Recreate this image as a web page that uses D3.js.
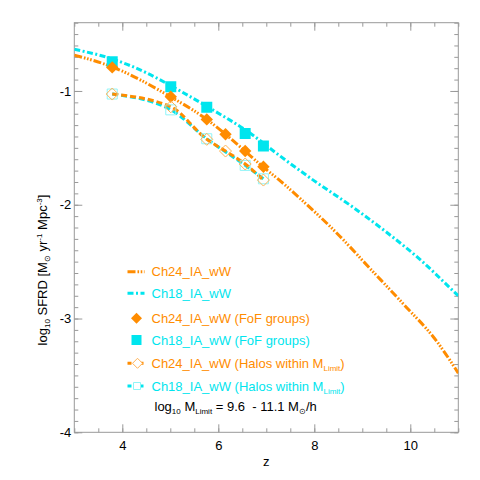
<!DOCTYPE html>
<html><head><meta charset="utf-8">
<script src="https://cdn.jsdelivr.net/npm/d3@7"></script>
<style>body{margin:0;background:#fff}svg{display:block}text{font-family:"Liberation Sans",Arial,sans-serif}</style>
</head><body><svg id="c" width="480" height="480"></svg>
<script>
// ---- data ----
const ch24Z   = [3.0, 3.8, 5.0, 5.76, 6.15, 6.56, 6.94, 7.29, 7.77, 8.47, 9.16, 9.85, 10.55, 11.0];
const ch24Y   = [-0.685, -0.79, -1.05, -1.25, -1.38, -1.53, -1.67, -1.79, -1.97, -2.25, -2.56, -2.87, -3.2, -3.48];
const ch18Z   = [3.0, 3.8, 4.5, 5.1, 5.9, 6.66, 7.25, 8.0, 8.8, 9.5, 10.2, 10.9, 11.0];
const ch18Y   = [-0.634, -0.72, -0.84, -0.975, -1.17, -1.37, -1.56, -1.79, -2.02, -2.24, -2.48, -2.76, -2.80];
const fof24Z  = [3.79, 5.01, 5.76, 6.15, 6.56, 6.94];
const fof24Y  = [-0.793, -1.051, -1.250, -1.381, -1.528, -1.666];
const fof18Z  = [3.79, 5.01, 5.76, 6.56, 6.94];
const fof18Y  = [-0.743, -0.963, -1.144, -1.373, -1.484];
const halo24Z = [3.79, 5.01, 5.76, 6.15, 6.56, 6.94];
const halo24Y = [-1.027, -1.139, -1.425, -1.528, -1.642, -1.783];
const halo18Z = [3.79, 5.01, 5.76, 6.56, 6.94];
const halo18Y = [-1.027, -1.166, -1.420, -1.654, -1.772];
const xTicks = [4, 6, 8, 10];
const yTicks = [-1, -2, -3, -4];
const legendLabels = ["Ch24_IA_wW", "Ch18_IA_wW", "Ch24_IA_wW (FoF groups)", "Ch18_IA_wW (FoF groups)", "Ch24_IA_wW (Halos within M", "Ch18_IA_wW (Halos within M"];

const ORANGE = "#FF8C00", CYAN = "#00E5EE", AX = "#999";
const svg = d3.select("#c");
const L = 74.3, R = 458.3, T = 22.7, B = 432.3;
const x = d3.scaleLinear().domain([3, 11]).range([L, R]);
const y = d3.scaleLinear().domain([-4, -0.4]).range([B, T]);

// axes
const fmt = d => d;
const xMinor = d3.range(3, 11.001, 0.5);
const yMinor = d3.range(-4, -0.399, 0.1);
function ticksAxis(axisGen, tr) {
  const g = svg.append("g").attr("transform", tr).call(axisGen);
  g.select(".domain").remove();
  g.selectAll("line").attr("stroke", AX);
  g.selectAll("text").attr("fill", "#000").style("font-size", "13px").style("font-family", "Liberation Sans, Arial, sans-serif");
  return g;
}
// bottom
ticksAxis(d3.axisTop(x).tickValues(xMinor).tickSize(4).tickFormat(""), `translate(0,${B})`);
ticksAxis(d3.axisTop(x).tickValues(xTicks).tickSize(8).tickFormat(""), `translate(0,${B})`);
ticksAxis(d3.axisBottom(x).tickValues(xTicks).tickSize(0).tickPadding(8).tickFormat(fmt), `translate(0,${B})`);
// top
ticksAxis(d3.axisBottom(x).tickValues(xMinor).tickSize(4).tickFormat(""), `translate(0,${T})`);
ticksAxis(d3.axisBottom(x).tickValues(xTicks).tickSize(8).tickFormat(""), `translate(0,${T})`);
// left
ticksAxis(d3.axisRight(y).tickValues(yMinor).tickSize(4).tickFormat(""), `translate(${L},0)`);
ticksAxis(d3.axisRight(y).tickValues(yTicks).tickSize(8).tickFormat(""), `translate(${L},0)`);
ticksAxis(d3.axisLeft(y).tickValues(yTicks).tickSize(0).tickPadding(3).tickFormat(fmt), `translate(${L},0)`);
// right
ticksAxis(d3.axisLeft(y).tickValues(yMinor).tickSize(4).tickFormat(""), `translate(${R},0)`);
ticksAxis(d3.axisLeft(y).tickValues(yTicks).tickSize(8).tickFormat(""), `translate(${R},0)`);
svg.append("rect").attr("x", L).attr("y", T).attr("width", R - L).attr("height", B - T)
  .attr("fill", "none").attr("stroke", AX).attr("stroke-width", 1);

// titles
svg.append("text").attr("x", (L + R) / 2).attr("y", 466).attr("text-anchor", "middle")
  .style("font-size", "13px").text("z");
const yt = svg.append("text").attr("transform", "translate(47,270) rotate(-90)")
  .attr("text-anchor", "middle").style("font-size", "13px");
yt.append("tspan").text("log");
yt.append("tspan").attr("baseline-shift", "-3").style("font-size", "8px").text("10");
yt.append("tspan").text(" SFRD [M");
yt.append("tspan").attr("baseline-shift", "-3").style("font-size", "8px").text("\u2299");
yt.append("tspan").text(" yr");
yt.append("tspan").attr("baseline-shift", "5").style("font-size", "8px").text("-1");
yt.append("tspan").text(" Mpc");
yt.append("tspan").attr("baseline-shift", "5").style("font-size", "8px").text("-3");
yt.append("tspan").text("]");

// clip
svg.append("clipPath").attr("id", "clip").append("rect").attr("x", L).attr("y", T).attr("width", R - L).attr("height", B - T);
const plot = svg.append("g").attr("clip-path", "url(#clip)");

const line = d3.line().x(d => x(d[0])).y(d => y(d[1])).curve(d3.curveMonotoneX);
const zip = (a, b) => a.map((v, i) => [v, b[i]]);

const DASH24 = "8,2,1.6,1.6,1.6,1.6,1.6,2";
const DASH18 = "6,2.5,2,2.5";
const DASHH = "6,3";

plot.append("path").attr("d", line(zip(ch18Z, ch18Y))).attr("fill", "none").attr("stroke", CYAN)
  .attr("stroke-width", 3).attr("stroke-dasharray", DASH18);
plot.append("path").attr("d", line(zip(ch24Z, ch24Y))).attr("fill", "none").attr("stroke", ORANGE)
  .attr("stroke-width", 3).attr("stroke-dasharray", DASH24);
plot.append("path").attr("d", line(zip(halo18Z, halo18Y))).attr("fill", "none").attr("stroke", CYAN)
  .attr("stroke-width", 3).attr("stroke-dasharray", DASHH);
plot.append("path").attr("d", line(zip(halo24Z, halo24Y))).attr("fill", "none").attr("stroke", ORANGE)
  .attr("stroke-width", 3).attr("stroke-dasharray", DASHH);

const diamond = (s) => `M0,${-s}L${s},0L0,${s}L${-s},0Z`;
const square = (s) => `M${-s},${-s}H${s}V${s}H${-s}Z`;

plot.selectAll(".fs").data(zip(fof18Z, fof18Y)).join("path").attr("class", "fs")
  .attr("transform", d => `translate(${x(d[0])},${y(d[1])})`).attr("d", square(5.5)).attr("fill", CYAN);
plot.selectAll(".fd").data(zip(fof24Z, fof24Y)).join("path").attr("class", "fd")
  .attr("transform", d => `translate(${x(d[0])},${y(d[1])})`).attr("d", diamond(6.2)).attr("fill", ORANGE);
plot.selectAll(".os").data(zip(halo18Z, halo18Y)).join("path").attr("class", "os")
  .attr("transform", d => `translate(${x(d[0])},${y(d[1])})`).attr("d", square(5)).attr("fill", "none")
  .attr("stroke", "#8FF4F7").attr("stroke-width", 1);
plot.selectAll(".od").data(zip(halo24Z, halo24Y)).join("path").attr("class", "od")
  .attr("transform", d => `translate(${x(d[0])},${y(d[1])})`).attr("d", diamond(6)).attr("fill", "none")
  .attr("stroke", "#FFB255").attr("stroke-width", 1);

// legend
const rowsY = [271.7, 293.3, 318.3, 340, 363.3, 386];
const lx0 = 127.5, lx1 = 143.5, tx = 151.5;
const colors = [ORANGE, CYAN, ORANGE, CYAN, ORANGE, CYAN];
legendLabels.forEach((lab, i) => {
  const t = svg.append("text").attr("x", tx).attr("y", rowsY[i] + 4.5).attr("fill", colors[i]).style("font-size", "13px");
  t.append("tspan").text(lab);
  if (i >= 4) {
    t.append("tspan").attr("baseline-shift", "-3").style("font-size", "8px").text("Limit");
    t.append("tspan").text(")");
  }
});
const lg = svg.append("g");
lg.append("line").attr("x1", lx0).attr("x2", lx1 + 1).attr("y1", rowsY[0]).attr("y2", rowsY[0]).attr("stroke", ORANGE).attr("stroke-width", 3).attr("stroke-dasharray", DASH24);
lg.append("line").attr("x1", lx0).attr("x2", lx1 + 1).attr("y1", rowsY[1]).attr("y2", rowsY[1]).attr("stroke", CYAN).attr("stroke-width", 3).attr("stroke-dasharray", DASH18);
lg.append("path").attr("transform", `translate(136.5,${rowsY[2]})`).attr("d", diamond(5.5)).attr("fill", ORANGE);
lg.append("path").attr("transform", `translate(136.5,${rowsY[3]})`).attr("d", square(5)).attr("fill", CYAN);
lg.append("line").attr("x1", lx0).attr("x2", lx1).attr("y1", rowsY[4]).attr("y2", rowsY[4]).attr("stroke", ORANGE).attr("stroke-width", 3).attr("stroke-dasharray", "4,8,4");
lg.append("path").attr("transform", `translate(137.5,${rowsY[4]})`).attr("d", diamond(5)).attr("fill", "#fff").attr("stroke", "#FFB255");
lg.append("line").attr("x1", lx0).attr("x2", lx1).attr("y1", rowsY[5]).attr("y2", rowsY[5]).attr("stroke", CYAN).attr("stroke-width", 3).attr("stroke-dasharray", "4,3,9");
lg.append("path").attr("transform", `translate(137,${rowsY[5]})`).attr("d", square(3.5)).attr("fill", "#fff").attr("stroke", "#8FF4F7");

// note
const nt = svg.append("text").attr("x", 154.5).attr("y", 411).attr("fill", "#000")
  .style("font-size", "13px").style("white-space", "pre");
nt.append("tspan").text("log");
nt.append("tspan").attr("baseline-shift", "-3").style("font-size", "8px").text("10");
nt.append("tspan").text(" M");
nt.append("tspan").attr("baseline-shift", "-3").style("font-size", "8px").text("Limit");
nt.append("tspan").text(" = 9.6  - 11.1 M");
nt.append("tspan").attr("baseline-shift", "-3").style("font-size", "8px").text("\u2299");
nt.append("tspan").text("/h");
</script></body></html>
